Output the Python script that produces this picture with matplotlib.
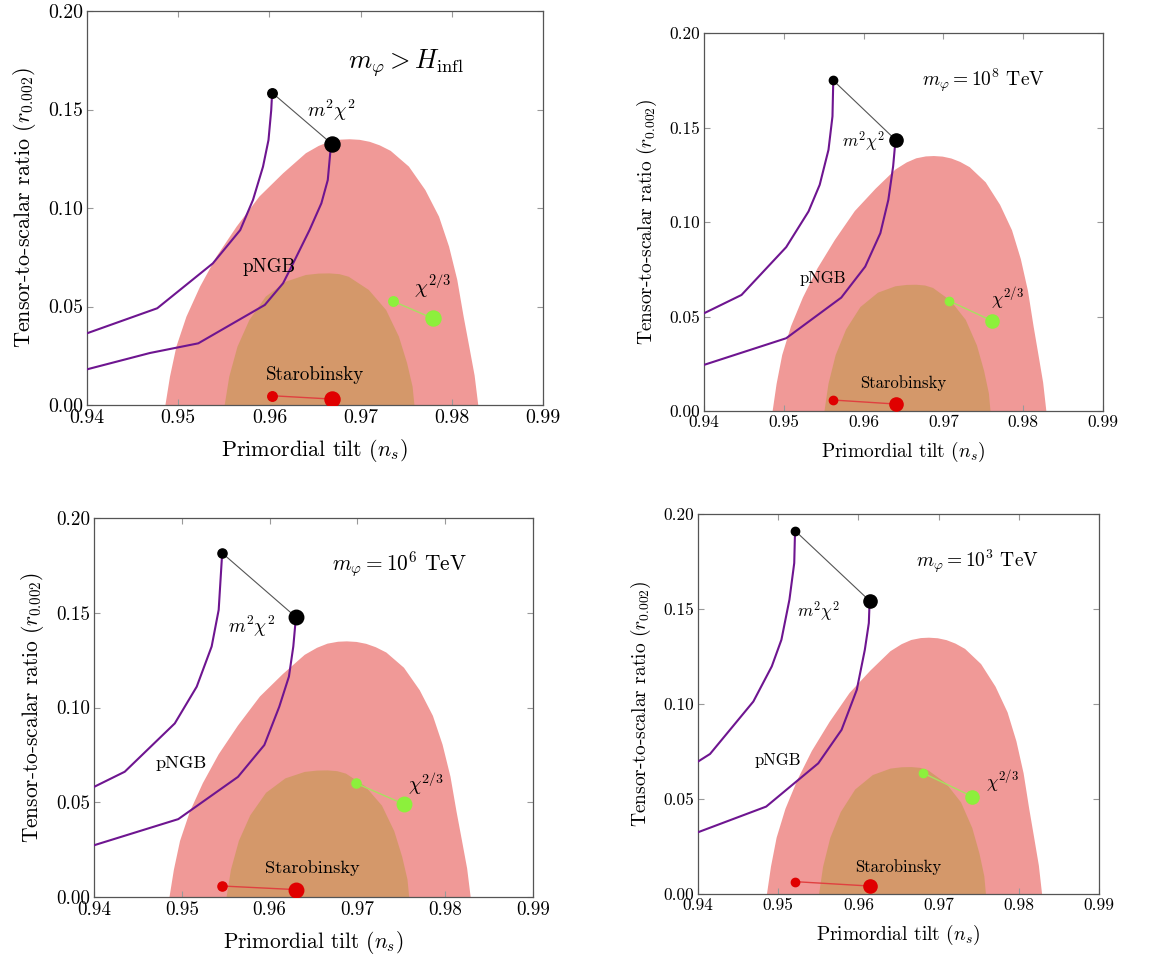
import matplotlib
matplotlib.use('Agg')
import matplotlib.pyplot as plt

plt.rcParams['font.family'] = ['cmr10', 'DejaVu Serif']
plt.rcParams['mathtext.fontset'] = 'cm'
plt.rcParams['axes.unicode_minus'] = False

# Planck contours, same in all four panels
c95_ns = [0.9486, 0.9491, 0.9498, 0.9509, 0.9524, 0.9542, 0.9564, 0.9589, 0.9615, 0.9640,
          0.9654, 0.9666, 0.9678, 0.9688, 0.9699, 0.9710, 0.9721, 0.9733, 0.9753, 0.9771,
          0.9786, 0.9797, 0.9806, 0.9813, 0.9819, 0.9825, 0.9829]
c95_r = [0.0, 0.0144, 0.0296, 0.0448, 0.0601, 0.0753, 0.0905, 0.1058, 0.1176, 0.1278,
         0.1315, 0.1337, 0.1347, 0.1349, 0.1346, 0.1336, 0.1318, 0.1290, 0.1210, 0.1091,
         0.0956, 0.0804, 0.0635, 0.0448, 0.0300, 0.0150, 0.0]
c68_ns = [0.9551, 0.9556, 0.9565, 0.9578, 0.9596, 0.9618, 0.9640, 0.9654, 0.9666, 0.9677,
          0.9687, 0.9709, 0.9728, 0.9742, 0.9751, 0.9757, 0.9759]
c68_r = [0.0, 0.0144, 0.0296, 0.0431, 0.0550, 0.0626, 0.0660, 0.0667, 0.0668, 0.0664,
         0.0651, 0.0584, 0.0482, 0.0347, 0.0212, 0.0093, 0.0]

titles = [r'$m_\varphi > H_{\mathrm{infl}}$', r'$m_\varphi = 10^8$ TeV',
          r'$m_\varphi = 10^6$ TeV', r'$m_\varphi = 10^3$ TeV']

# panel 1: m_phi > H_infl
p1_left_ns = [0.9400, 0.9477, 0.9538, 0.9568, 0.9582, 0.9593, 0.9599, 0.9602, 0.9603]
p1_left_r = [0.0364, 0.0491, 0.0719, 0.0888, 0.1041, 0.1210, 0.1345, 0.1497, 0.1585]
p1_right_ns = [0.9400, 0.9469, 0.9522, 0.9595, 0.9615, 0.9626, 0.9644, 0.9657, 0.9664, 0.9667, 0.9669]
p1_right_r = [0.0181, 0.0264, 0.0313, 0.0508, 0.0618, 0.0719, 0.0888, 0.1024, 0.1142, 0.1294, 0.1323]
p1_green = [(0.9735, 0.0528), (0.9779, 0.0440)]
p1_red = [(0.9603, 0.0047), (0.9669, 0.0030)]

# panel 2: 10^8 TeV
p2_left_ns = [0.9400, 0.9447, 0.9503, 0.9531, 0.9545, 0.9556, 0.9561, 0.9562]
p2_left_r = [0.0517, 0.0614, 0.0867, 0.1056, 0.1197, 0.1382, 0.1559, 0.1749]
p2_right_ns = [0.9400, 0.9503, 0.9572, 0.9602, 0.9621, 0.9631, 0.9637, 0.9640]
p2_right_r = [0.0244, 0.0385, 0.0600, 0.0764, 0.0941, 0.1117, 0.1294, 0.1435]
p2_green = [(0.9707, 0.0583), (0.9761, 0.0477)]
p2_red = [(0.9562, 0.0058), (0.9640, 0.0037)]

# panel 3: 10^6 TeV
p3_left_ns = [0.9400, 0.9435, 0.9492, 0.9517, 0.9534, 0.9542, 0.9546]
p3_left_r = [0.0581, 0.0661, 0.0916, 0.1110, 0.1322, 0.1515, 0.1815]
p3_right_ns = [0.9400, 0.9496, 0.9564, 0.9594, 0.9611, 0.9622, 0.9627, 0.9630]
p3_right_r = [0.0273, 0.0411, 0.0634, 0.0802, 0.1004, 0.1163, 0.1322, 0.1477]
p3_green = [(0.9698, 0.0601), (0.9753, 0.0490)]
p3_red = [(0.9546, 0.0058), (0.9630, 0.0039)]

# panel 4: 10^3 TeV
p4_left_ns = [0.9400, 0.9415, 0.9469, 0.9492, 0.9504, 0.9514, 0.9520, 0.9521]
p4_left_r = [0.0697, 0.0737, 0.1013, 0.1198, 0.1338, 0.1549, 0.1742, 0.1912]
p4_right_ns = [0.9400, 0.9485, 0.9550, 0.9579, 0.9598, 0.9608, 0.9613, 0.9614]
p4_right_r = [0.0325, 0.0460, 0.0688, 0.0864, 0.1075, 0.1285, 0.1426, 0.1543]
p4_green = [(0.9681, 0.0636), (0.9742, 0.0513)]
p4_red = [(0.9521, 0.0065), (0.9614, 0.0042)]

xticks = [0.94, 0.95, 0.96, 0.97, 0.98, 0.99]
yticks = [0.00, 0.05, 0.10, 0.15, 0.20]

panels = [
    (p1_left_ns, p1_left_r, p1_right_ns, p1_right_r, p1_green, p1_red),
    (p2_left_ns, p2_left_r, p2_right_ns, p2_right_r, p2_green, p2_red),
    (p3_left_ns, p3_left_r, p3_right_ns, p3_right_r, p3_green, p3_red),
    (p4_left_ns, p4_left_r, p4_right_ns, p4_right_r, p4_green, p4_red),
]

# layout: axes rectangles in pixels (left, top, right, bottom) and font scale
W, H = 1174, 957
boxes = [(87, 11, 543, 405), (704, 33, 1103, 411), (94, 518, 533, 897), (698, 514, 1099, 894)]
scales = [1.14, 1.0, 1.1, 1.0]
title_sizes = [19, 14, 15.4, 14]
# label positions (data coords): title, m2chi2, pNGB, chi23, Starobinsky
label_pos = [
    [(0.9750, 0.1734), (0.9668, 0.1497), (0.9600, 0.0702), (0.9779, 0.0601), (0.9650, 0.0152)],
    [(0.9750, 0.1753), (0.9600, 0.1426), (0.9549, 0.0703), (0.9780, 0.0597), (0.9650, 0.0150)],
    [(0.9748, 0.1753), (0.9579, 0.1427), (0.9499, 0.0705), (0.9778, 0.0599), (0.9649, 0.0150)],
    [(0.9749, 0.1754), (0.9550, 0.1487), (0.9500, 0.0706), (0.9779, 0.0592), (0.9650, 0.0144)],
]

pink = '#f09997'
orange = '#d4986a'
purple = '#6e1590'

fig = plt.figure(figsize=(W / 100, H / 100), dpi=100)

for i, (lns, lr, rns, rr, green, red) in enumerate(panels):
    l, t, r, b = boxes[i]
    s = scales[i]
    ax = fig.add_axes([l / W, 1 - b / H, (r - l) / W, (b - t) / H])

    ax.fill(c95_ns, c95_r, color=pink, lw=0, zorder=1)
    ax.fill(c68_ns, c68_r, color=orange, lw=0, zorder=2)

    ax.plot(lns, lr, color=purple, lw=1.5, zorder=3)
    ax.plot(rns, rr, color=purple, lw=1.5, zorder=3)

    # m^2 chi^2 end points
    ax.plot([lns[-1], rns[-1]], [lr[-1], rr[-1]], color='#555555', lw=0.8, zorder=4)
    ax.plot(lns[-1], lr[-1], 'o', color='black', ms=6 * s, zorder=5)
    ax.plot(rns[-1], rr[-1], 'o', color='black', ms=9.5 * s, zorder=5)

    gx = [p[0] for p in green]
    gy = [p[1] for p in green]
    ax.plot(gx, gy, color='#a8e060', lw=1, zorder=4)
    ax.plot(gx[0], gy[0], 'o', color='#8cf03c', ms=6 * s, zorder=5)
    ax.plot(gx[1], gy[1], 'o', color='#8cf03c', ms=9.5 * s, zorder=5)

    rx = [p[0] for p in red]
    ry = [p[1] for p in red]
    ax.plot(rx, ry, color='#e04040', lw=1, zorder=4)
    ax.plot(rx[0], ry[0], 'o', color='#e00000', ms=6 * s, zorder=5)
    ax.plot(rx[1], ry[1], 'o', color='#e00000', ms=9.5 * s, zorder=5)

    lp = label_pos[i]
    ax.text(*lp[0], titles[i], fontsize=title_sizes[i], ha='center', va='center')
    ax.text(*lp[1], r'$m^2\chi^2$', fontsize=12.5 * s, ha='center', va='center')
    ax.text(*lp[2], 'pNGB', fontsize=12 * s, ha='center', va='center')
    ax.text(*lp[3], r'$\chi^{2/3}$', fontsize=13 * s, ha='center', va='center')
    ax.text(*lp[4], 'Starobinsky', fontsize=12 * s, ha='center', va='center')

    ax.set_xlim(0.94, 0.99)
    ax.set_ylim(0, 0.20)
    ax.set_xticks(xticks)
    ax.set_yticks(yticks)
    ax.set_xticklabels(['%.2f' % v for v in xticks])
    ax.set_yticklabels(['%.2f' % v for v in yticks])
    ax.tick_params(direction='in', length=4, width=0.8, color='#999999',
                   top=True, right=True, labelsize=12.5 * s, pad=3)
    for sp in ax.spines.values():
        sp.set_color('#555555')
        sp.set_linewidth(0.9)
    ax.set_xlabel(r'Primordial tilt ($n_s$)', fontsize=14 * s, labelpad=7)
    ax.set_ylabel(r'Tensor-to-scalar ratio ($r_{0.002}$)', fontsize=14 * s, labelpad=7)

fig.savefig('out.png', dpi=100)
